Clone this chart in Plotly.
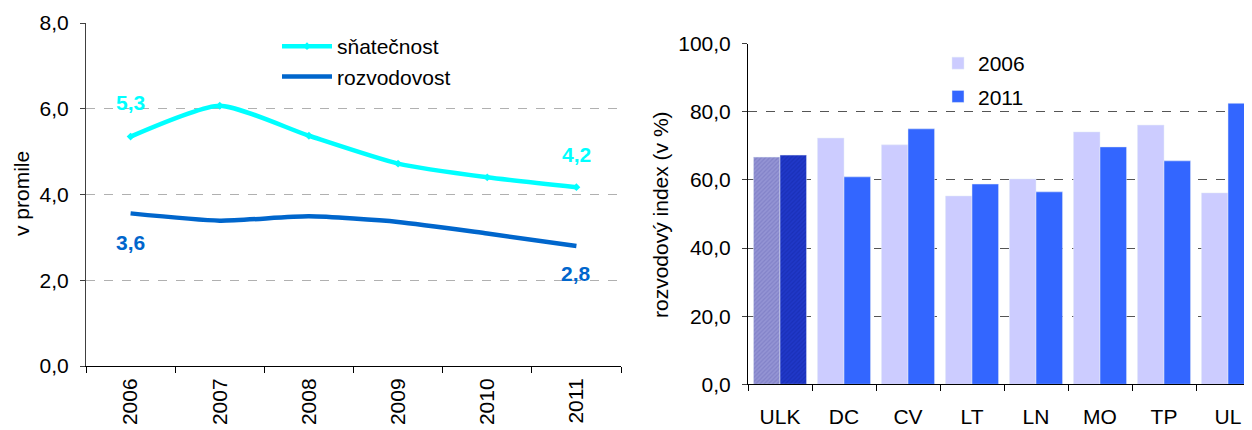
import plotly.graph_objects as go

# ---- data ----
years = ["2006", "2007", "2008", "2009", "2010", "2011"]
snatecnost = [5.35, 6.07, 5.37, 4.72, 4.40, 4.17]
rozvodovost = [3.56, 3.39, 3.49, 3.36, 3.09, 2.80]

regions = ["ULK", "DC", "CV", "LT", "LN", "MO", "TP", "UL"]
index_2006 = [66.7, 72.3, 70.3, 55.3, 60.3, 74.1, 76.1, 56.2]
index_2011 = [67.3, 60.9, 75.0, 58.8, 56.5, 69.7, 65.6, 82.5]

FONT = "Liberation Sans, Arial, sans-serif"
W, H = 1252, 430
OFF = 8  # page body margin offset
CYAN = "#00FFFF"
BLUE = "#0066CC"
LIGHT = "#CCCCFF"
BRIGHT = "#3366FF"
FS = 21


def px_x(p):
    return (p - OFF) / W


def px_y(p):
    return 1 - (p - OFF) / H


def fmt(v):
    return f"{v:.1f}".replace(".", ",")


fig = go.Figure()

# ---- left: line chart ----
fig.add_trace(go.Scatter(
    x=years, y=snatecnost, name="sňatečnost", mode="lines+markers",
    line=dict(color=CYAN, width=4.5, shape="spline", smoothing=0.6),
    marker=dict(symbol="diamond", size=6, color=CYAN),
    xaxis="x", yaxis="y", legend="legend", legendgroup="a"))
fig.add_trace(go.Scatter(
    x=years, y=rozvodovost, name="rozvodovost", mode="lines",
    line=dict(color=BLUE, width=4.5, shape="spline", smoothing=0.6),
    xaxis="x", yaxis="y", legend="legend", legendgroup="b"))

# ---- right: bar chart (ULK highlighted separately) ----
fig.add_trace(go.Bar(
    x=regions[:1], y=index_2006[:1], name="2006", showlegend=False,
    marker=dict(color="#9494D4", pattern=dict(shape="/", fgcolor="#7070BC", size=3, solidity=0.4)),
    offsetgroup="1", xaxis="x2", yaxis="y2"))
fig.add_trace(go.Bar(
    x=regions[1:], y=index_2006[1:], name="2006", marker_color=LIGHT,
    offsetgroup="1", xaxis="x2", yaxis="y2", legend="legend2", legendgroup="c"))
fig.add_trace(go.Bar(
    x=regions[:1], y=index_2011[:1], name="2011", showlegend=False,
    marker=dict(color="#2038C8", pattern=dict(shape="/", fgcolor="#1428A8", size=3, solidity=0.4)),
    offsetgroup="2", xaxis="x2", yaxis="y2"))
fig.add_trace(go.Bar(
    x=regions[1:], y=index_2011[1:], name="2011", marker_color=BRIGHT,
    offsetgroup="2", xaxis="x2", yaxis="y2", legend="legend2", legendgroup="d"))

# ---- data labels on the line chart ----
label_specs = [
    (0, snatecnost[0], CYAN, 34),
    (len(years) - 1, snatecnost[-1], CYAN, 33),
    (0, rozvodovost[0], BLUE, -29),
    (len(years) - 1, rozvodovost[-1], BLUE, -28),
]
annotations = []
for i, v, c, ys in label_specs:
    annotations.append(dict(
        x=i, y=v, xref="x", yref="y", text=f"<b>{fmt(v)}</b>", showarrow=False,
        yshift=ys, font=dict(family=FONT, size=FS, color=c)))

annotations.append(dict(
    x=px_x(22), y=px_y(194), xref="paper", yref="paper", text="v promile",
    xanchor="center", yanchor="middle",
    textangle=-90, showarrow=False, font=dict(family=FONT, size=FS, color="black")))
annotations.append(dict(
    x=px_x(660), y=px_y(215), xref="paper", yref="paper", text="rozvodový index (v %)",
    xanchor="center", yanchor="middle",
    textangle=-90, showarrow=False, font=dict(family=FONT, size=FS, color="black")))

axis_font = dict(family=FONT, size=FS, color="black")

fig.update_layout(
    width=W, height=H,
    margin=dict(l=0, r=0, t=0, b=0, autoexpand=False),
    paper_bgcolor="white", plot_bgcolor="white",
    separators=", ",
    barmode="group", bargap=0.17, bargroupgap=0,
    font=dict(family=FONT, size=FS, color="black"),
    annotations=annotations,
    xaxis=dict(
        domain=[px_x(86), px_x(621)], type="category", range=[-0.5, 5.5],
        categoryorder="array", categoryarray=years,
        showline=True, linecolor="black", linewidth=1,
        ticks="outside", tickson="boundaries", ticklen=6, tickcolor="black",
        tickangle=-90, tickfont=axis_font, showgrid=False, anchor="y",
        ticklabelstandoff=3, automargin=False),
    yaxis=dict(
        domain=[px_y(366), px_y(23)], range=[0, 8], dtick=2, tickformat=".1f",
        showline=True, linecolor="#404040", linewidth=1,
        ticks="outside", ticklen=5, tickcolor="#404040", tickfont=axis_font,
        ticklabelstandoff=7,
        showgrid=True, gridcolor="#B0B0B0", griddash="dash", gridwidth=1,
        zeroline=False, anchor="x", automargin=False),
    xaxis2=dict(
        domain=[px_x(748), 1.0], type="category", range=[-0.5, 7.5],
        categoryorder="array", categoryarray=regions,
        showline=True, linecolor="black", linewidth=1,
        ticks="outside", tickson="boundaries", ticklen=6, tickcolor="black",
        tickfont=axis_font, showgrid=False, anchor="y2", ticklabelstandoff=13,
        automargin=False),
    yaxis2=dict(
        domain=[px_y(384.3), px_y(43.7)], range=[0, 100], dtick=20, tickformat=".1f",
        showline=True, linecolor="black", linewidth=1,
        ticks="outside", ticklen=5, tickcolor="#404040", tickfont=axis_font,
        ticklabelstandoff=7,
        showgrid=True, gridcolor="#555555", griddash="dash", gridwidth=1,
        zeroline=False, anchor="x2", automargin=False),
    legend=dict(
        x=px_x(277), y=px_y(26), xanchor="left", yanchor="top",
        bgcolor="rgba(0,0,0,0)", font=dict(family=FONT, size=FS, color="black"),
        tracegroupgap=0, itemwidth=50),
    legend2=dict(
        x=px_x(938), y=px_y(43), xanchor="left", yanchor="top",
        bgcolor="rgba(0,0,0,0)", font=dict(family=FONT, size=FS, color="black"),
        tracegroupgap=3, itemwidth=30),
)

fig.write_html("out.html")
